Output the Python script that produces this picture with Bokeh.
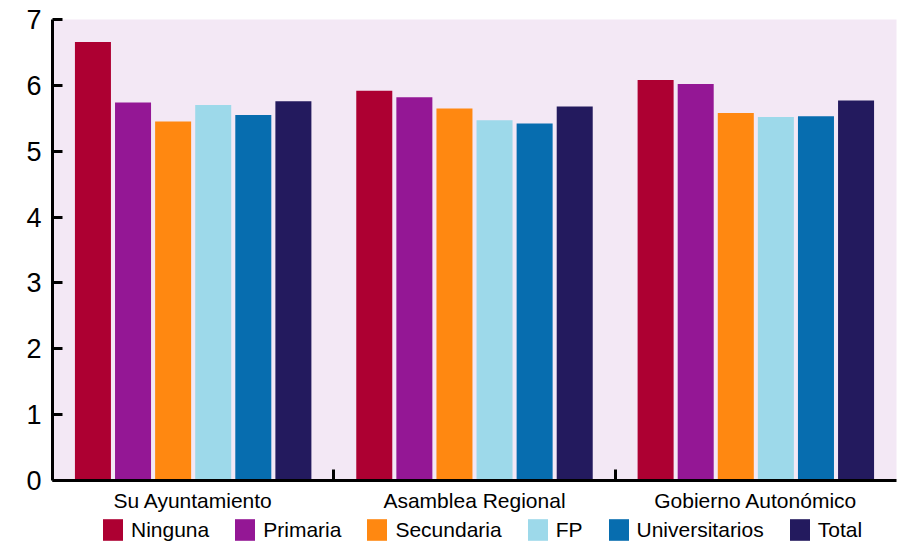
import numpy as np
from bokeh.plotting import figure
from bokeh.layouts import column
from bokeh.models import Range1d, FixedTicker, Legend, LegendItem, ColumnDataSource
from bokeh.embed import file_html
from bokeh.resources import INLINE

# ---- data ----
groups = ["Su Ayuntamiento", "Asamblea Regional", "Gobierno Autonómico"]
levels = ["Ninguna", "Primaria", "Secundaria", "FP", "Universitarios", "Total"]
ninguna = [6.66, 5.92, 6.08]
primaria = [5.74, 5.82, 6.02]
secundaria = [5.45, 5.65, 5.58]
fp = [5.70, 5.47, 5.52]
universitarios = [5.55, 5.42, 5.53]
total = [5.76, 5.68, 5.77]
y_ticks = [0, 1, 2, 3, 4, 5, 6, 7]

series = [ninguna, primaria, secundaria, fp, universitarios, total]
colors = ["#AD0032", "#941795", "#FF8811", "#9DD9EA", "#076DAF", "#231A5E"]

FONT = "Liberation Sans"

p = figure(frame_width=844, frame_height=461, output_backend="svg", toolbar_location=None,
           x_range=Range1d(0, len(groups)), y_range=Range1d(0, 7),
           min_border_left=52, min_border_right=5, min_border_top=19,
           min_border_bottom=33)
p.background_fill_color = "#F3E8F5"
p.border_fill_color = "white"
p.outline_line_color = None
p.grid.visible = False

step = 0.1425
width = 0.128
gidx = np.arange(len(groups))
sources = []
for k, (lvl, vals, col) in enumerate(zip(levels, series, colors)):
    src = ColumnDataSource(dict(x=gidx + 0.5 + (k - (len(levels) - 1) / 2) * step, top=vals))
    sources.append(src)
    p.vbar(x="x", top="top", width=width, bottom=0, source=src,
           fill_color=col, line_color=None)

# x axis
xa = p.xaxis[0]
xa.ticker = FixedTicker(ticks=list(gidx + 0.5), minor_ticks=list(gidx[1:]))
xa.major_label_overrides = {float(i + 0.5): g for i, g in enumerate(groups)}
xa.major_tick_in = 0
xa.major_tick_out = 0
xa.minor_tick_in = 11
xa.minor_tick_out = 0
xa.minor_tick_line_width = 3
xa.minor_tick_line_color = "black"
xa.axis_line_width = 3
xa.axis_line_color = "black"
xa.major_label_text_font = FONT
xa.major_label_text_font_size = "21px"
xa.major_label_text_color = "black"
xa.major_label_standoff = 8

# y axis
ya = p.yaxis[0]
ya.ticker = FixedTicker(ticks=y_ticks)
ya.major_tick_in = 10
ya.major_tick_out = 0
ya.major_tick_line_width = 3
ya.major_tick_line_color = "black"
ya.minor_tick_line_color = None
ya.axis_line_width = 3
ya.axis_line_color = "black"
ya.major_label_text_font = FONT
ya.major_label_text_font_size = "27px"
ya.major_label_text_color = "black"
ya.major_label_standoff = 11

# legend strip (separate figure below the chart); its bar proxies fall
# outside the strip's y range, so only the legend swatches are visible
lg = figure(frame_width=901, frame_height=29, output_backend="svg", toolbar_location=None,
            x_range=Range1d(0, len(groups)), y_range=Range1d(100, 101),
            x_axis_type=None, y_axis_type=None,
            min_border_left=0, min_border_right=0, min_border_top=0, min_border_bottom=0)
lg.outline_line_color = None
lg.grid.visible = False
items = []
for lvl, col, src in zip(levels, colors, sources):
    r = lg.vbar(x="x", top="top", bottom=0, width=width, source=src,
                fill_color=col, line_color=None)
    items.append(LegendItem(label=lvl, renderers=[r]))

legend = Legend(items=items, orientation="horizontal", location=(100, 0),
                label_text_font=FONT, label_text_font_size="21px",
                label_text_color="black", glyph_width=25, glyph_height=27,
                label_height=27, label_standoff=6, spacing=23,
                padding=1, margin=0, border_line_color=None,
                background_fill_alpha=0)
lg.add_layout(legend)

layout = column(p, lg, spacing=0)
open("out.html", "w").write(file_html(layout, INLINE))
